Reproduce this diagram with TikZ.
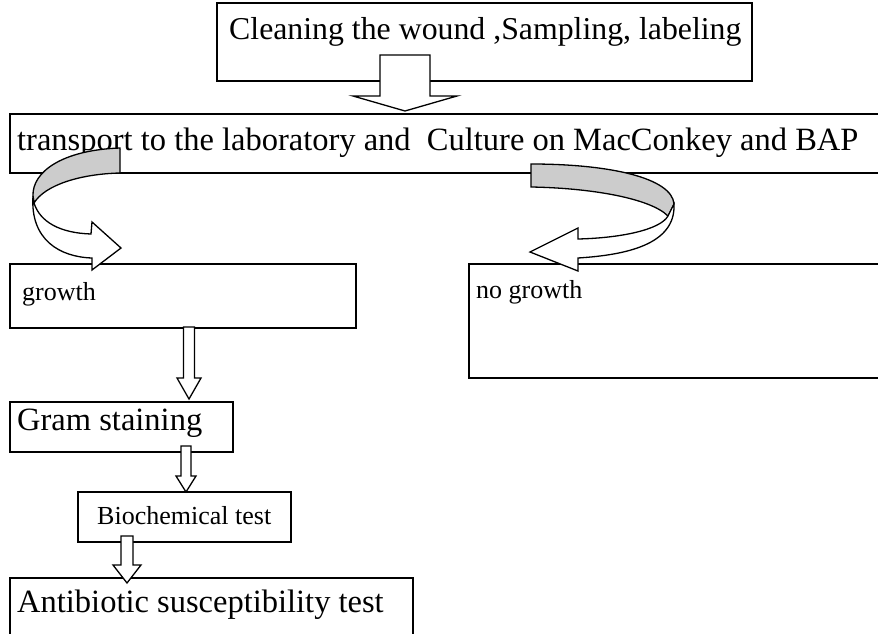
\documentclass[tikz,border=0pt]{standalone}
\usepackage{fontspec}
\setmainfont{Liberation Serif}
\usetikzlibrary{positioning}
\tikzset{
  box/.style={draw,line width=2pt,anchor=north west,inner sep=0pt},
  txt/.style={anchor=base west,inner sep=0pt,font=\fontsize{32.5}{38}\selectfont},
  smalltxt/.style={txt,font=\fontsize{26}{31}\selectfont},
  barrow/.style={draw,fill=white,line width=1.3pt,line join=miter},
  band/.style={draw,fill=black!20,line width=1.3pt}
}
% block arrow: x, top, base of head, tip, half shaft, half head
\newcommand{\blockarrow}[6]{%
  \draw[barrow] (#1-#5,#2) -- (#1+#5,#2) -- (#1+#5,#3) -- (#1+#6,#3) -- (#1,#4)
    -- (#1-#6,#3) -- (#1-#5,#3) -- cycle;}
\begin{document}
\begin{tikzpicture}[x=1pt,y=-1pt]
  \useasboundingbox (0,0) rectangle (878,634);
  % boxes
  \node[box,minimum width=535,minimum height=78] (clean) at (216,2) {};
  \node[box,minimum width=880,minimum height=59] (culture) at (9,113) {};
  \node[box,minimum width=346,minimum height=64] (growth) at (9,263) {};
  \node[box,minimum width=420,minimum height=114] (nogrowth) at (468,263) {};
  \node[box,minimum width=223,minimum height=50] (gram) at (9,401) {};
  \node[box,minimum width=213,minimum height=50] (biochem) at (77,491) {};
  \node[box,minimum width=403,minimum height=65] (antibio) at (9,577) {};
  % texts
  \node[txt,font=\fontsize{31.8}{38}\selectfont] (cleantext) at (229,40) {Cleaning the wound ,Sampling, labeling};
  \node[txt] (culturetext) at (17,150) {transport to the laboratory and\ \ Culture on MacConkey and BAP};
  \node[smalltxt] (growthtext) at (22,300) {growth};
  \node[smalltxt] (nogrowthtext) at (476,298) {no growth};
  \node[txt] (gramtext) at (17,430) {Gram staining};
  \node[smalltxt] (biochemtext) at (97,524) {Biochemical test};
  \node[txt] (antibiotext) at (17,612) {Antibiotic susceptibility test};
  % straight arrows
  \blockarrow{405}{55}{96}{111}{25}{52}
  \blockarrow{189}{327}{378}{399}{5.5}{12}
  \blockarrow{186}{446}{476}{492}{5}{10}
  \blockarrow{127}{536}{565}{583}{6}{14}
  % curved arrow to growth
  \draw[band] (120,148) .. controls (62,150) and (32,172) .. (33,196) -- (34,203)
    .. controls (45,185) and (80,174) .. (120,173) -- cycle;
  \draw[barrow] (33,196) .. controls (30,240) and (60,257) .. (92,258) -- (92,270) -- (121,248)
    -- (92,222) -- (91,234) .. controls (60,233) and (40,222) .. (34,203) -- cycle;
  % curved arrow to no growth
  \draw[band] (531,164) .. controls (610,164) and (672,178) .. (674,204) -- (668,216)
    .. controls (650,198) and (590,188) .. (531,187) -- cycle;
  \draw[barrow] (674,204) .. controls (676,245) and (625,255) .. (578,258) -- (578,271) -- (530,252)
    -- (578,228) -- (578,239) .. controls (620,238) and (660,230) .. (668,216) -- cycle;
\end{tikzpicture}
\end{document}
